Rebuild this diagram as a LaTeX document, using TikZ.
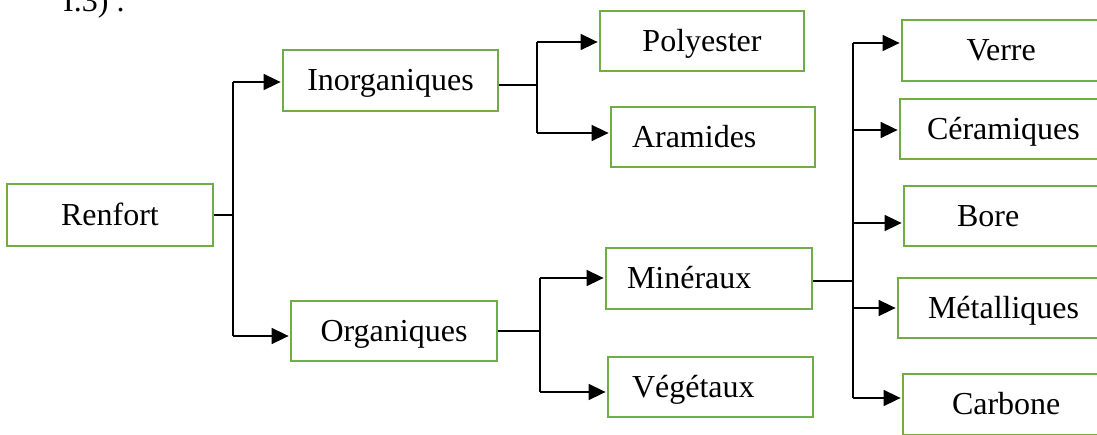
\documentclass[tikz,border=0pt]{standalone}
\usepackage{fontspec}
\setmainfont{Liberation Serif}
\usetikzlibrary{arrows.meta}
\definecolor{boxgreen}{RGB}{112,173,71}
\tikzset{
  box/.style={draw=boxgreen, line width=2.8pt, inner sep=0pt,
    text height=26pt, text depth=6pt, font=\fontsize{32}{38}\selectfont},
  leftbox/.style={align=left, inner xsep=#1},
  link/.style={line width=1.6pt, draw=black},
  arr/.style={link, -{Triangle[length=17pt,width=16pt]}, shorten >=1pt},
}
\begin{document}
\begin{tikzpicture}[x=1pt,y=-1pt]
\useasboundingbox (0,0) rectangle (1097,434);
\clip (0,0) rectangle (1097,434);

% caption line running in from above
\node[anchor=base west, inner sep=0pt, font=\fontsize{32}{38}\selectfont] (capline) at (63,11) {I.3) .};

% root
\node[box, minimum width=206pt, minimum height=62pt] (renfort) at (110,215) {Renfort};

% first level
\node[box, minimum width=215pt, minimum height=61pt] (inorg) at (390.5,80.5) {Inorganiques};
\node[box, minimum width=206pt, minimum height=60pt] (org) at (394,331) {Organiques};

% second level
\node[box, minimum width=204pt, minimum height=60pt] (poly) at (702,41) {Polyester};
\node[box, leftbox=21pt, text width=162pt, minimum height=60pt] (aram) at (713,137) {Aramides};
\node[box, leftbox=21pt, text width=164pt, minimum height=61pt] (mine) at (709,278.5) {Minéraux};
\node[box, leftbox=24pt, text width=157pt, minimum height=60pt] (vege) at (710.5,387) {Végétaux};

% mineral fibres (boxes run on past the right margin)
\node[box, leftbox=64.5pt, text width=94pt, minimum height=61pt] (verre) at (1013.5,50.5) {Verre};
\node[box, leftbox=27pt, text width=171pt, minimum height=60pt] (cera) at (1012.5,129) {Céramiques};
\node[box, leftbox=53pt, text width=115pt, minimum height=60pt] (bore) at (1014.5,216) {Bore};
\node[box, leftbox=30pt, text width=167pt, minimum height=60pt] (meta) at (1011.5,308) {Métalliques};
\node[box, leftbox=49pt, text width=124pt, minimum height=61pt] (carb) at (1014,404.5) {Carbone};

% branch points
\coordinate (rj) at (233,215);
\coordinate (rjt) at (233,82);
\coordinate (rjb) at (233,336);
\coordinate (ij) at (537,85);
\coordinate (ijt) at (537,42);
\coordinate (ijb) at (537,133);
\coordinate (oj) at (540,331);
\coordinate (ojt) at (540,278);
\coordinate (ojb) at (540,392);
\coordinate (mj) at (853,281);
\coordinate (mj1) at (853,43);
\coordinate (mj2) at (853,130);
\coordinate (mj3) at (853,223);
\coordinate (mj4) at (853,308);
\coordinate (mj5) at (853,398);

% Renfort
\draw[link] (renfort.east) -- (rj);
\draw[link] (rjt) -- (rjb);
\draw[arr] (rjt) -- (rjt -| inorg.west);
\draw[arr] (rjb) -- (rjb -| org.west);

% Inorganiques
\draw[link] (inorg.east |- ij) -- (ij);
\draw[link] (ijt) -- (ijb);
\draw[arr] (ijt) -- (ijt -| poly.west);
\draw[arr] (ijb) -- (ijb -| aram.west);

% Organiques
\draw[link] (org.east) -- (oj);
\draw[link] (ojt) -- (ojb);
\draw[arr] (ojt) -- (ojt -| mine.west);
\draw[arr] (ojb) -- (ojb -| vege.west);

% Minéraux
\draw[link] (mine.east |- mj) -- (mj);
\draw[link] (mj1) -- (mj5);
\draw[arr] (mj1) -- (mj1 -| verre.west);
\draw[arr] (mj2) -- (mj2 -| cera.west);
\draw[arr] (mj3) -- (mj3 -| bore.west);
\draw[arr] (mj4) -- (mj4 -| meta.west);
\draw[arr] (mj5) -- (mj5 -| carb.west);
\end{tikzpicture}
\end{document}
